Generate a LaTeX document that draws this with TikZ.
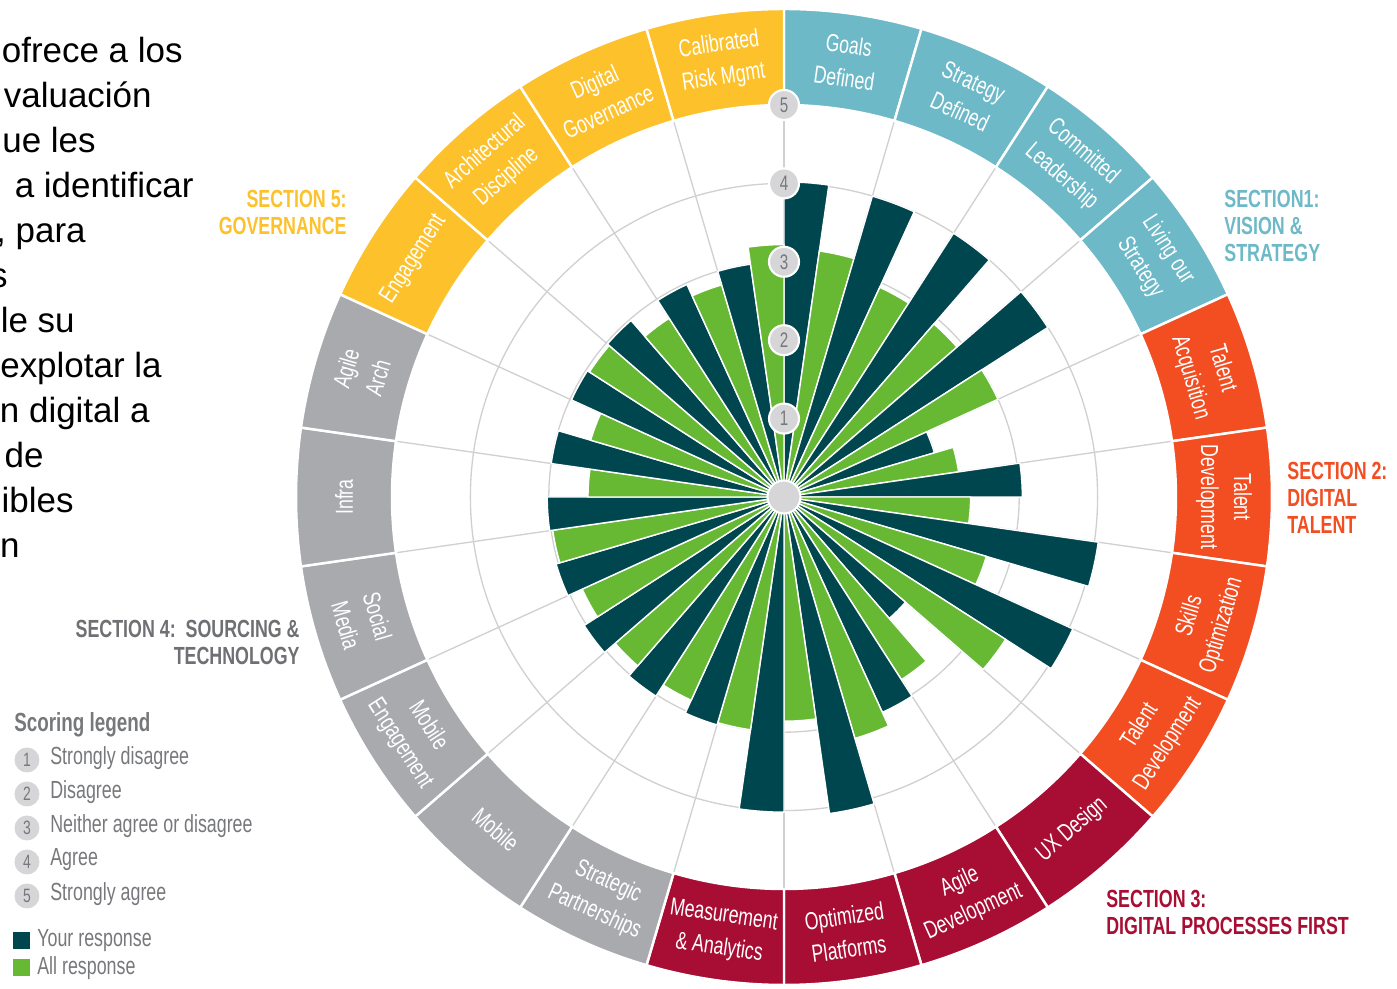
\documentclass[tikz,border=0pt]{standalone}
\usepackage{fontspec}
\setmainfont{Liberation Sans}
\newfontfamily\condfont[FakeStretch=0.72]{Liberation Sans}

\definecolor{yourbar}{HTML}{00464F}
\definecolor{allbar}{HTML}{67B934}
\definecolor{secone}{HTML}{6DB9C8}
\definecolor{sectwo}{HTML}{F24E22}
\definecolor{secthree}{HTML}{A80D33}
\definecolor{secfour}{HTML}{A9AAAD}
\definecolor{secfive}{HTML}{FDC22B}
\definecolor{secfourtext}{HTML}{6F7073}
\definecolor{gridgray}{HTML}{D0D0D0}
\definecolor{hubgray}{HTML}{D6D6D9}
\definecolor{legendgray}{HTML}{77787B}

\begin{document}
\begin{tikzpicture}[x=0.02cm, y=0.02cm,
    gridline/.style={gridgray, line width=0.75pt},
    barpiece/.style={draw=white, line width=0.8pt},
    bandpiece/.style={draw=white, line width=1.4pt},
    bandtext/.style={text=white, align=center, inner sep=0pt,
        font=\condfont\fontsize{14}{18.8}\selectfont},
    sectext/.style={align=left, inner sep=0pt,
        font=\condfont\bfseries\fontsize{14.1}{15.4}\selectfont},
    scoredot/.style={circle, fill=hubgray, draw=white, line width=1.2pt,
        minimum size=0.6cm, inner sep=0pt, text=legendgray,
        font=\condfont\fontsize{12}{12}\selectfont},
    legdot/.style={circle, fill=hubgray, minimum size=0.5cm, inner sep=0pt,
        text=legendgray, font=\condfont\fontsize{11}{11}\selectfont},
    legtext/.style={anchor=west, inner sep=0pt, text=legendgray,
        font=\condfont\fontsize{14.1}{14.1}\selectfont}]
    \path[use as bounding box] (-784,-492) rectangle (613,497);

    % cut-off text on the left
    \begin{scope}
        \clip (-784,-492) rectangle (613,497);
        \foreach \t/\xe/\yb [count=\i] in {ofrece a los/183/63, valuación/152/108,
            ue les/96/153, a identificar/194/198, {, para}/86/243, s/8/288,
            le su/75/333, explotar la/162/378, n digital a/150/423, de/44/468,
            ibles/74/513, n/20/558}
            \node[anchor=base east, inner sep=0pt, font=\fontsize{19.9}{24}\selectfont] (intro\i) at (\xe-784, 497-\yb) {\t};
    \end{scope}

    % grid
    \foreach \r in {1,...,4}
        \draw[gridline] (0,0) circle[radius=\r*78.4];
    \foreach \k in {0,...,21}
        \draw[gridline] (0,0) -- ({90-360/22*\k}:392);

    % bars, ring and labels
    \foreach \k/\vy/\va/\secol/\lab in {
        0/4.02/3.17/secone/{Goals\\Defined},
        1/4.0/2.94/secone/{Strategy\\Defined},
        2/4.0/2.92/secone/{Committed\\Leadership},
        3/4.0/3.0/secone/{Living our\\Strategy},
        4/2.0/2.25/sectwo/{Talent\\Acquisition},
        5/3.04/2.38/sectwo/{Talent\\Development},
        6/4.05/2.69/sectwo/{Skills\\Optimization},
        7/4.05/3.36/sectwo/{Talent\\Development},
        8/2.05/2.77/secthree/{UX Design},
        9/3.02/3.21/secthree/{Agile\\Development},
        10/4.08/2.86/secthree/{Optimized\\Platforms},
        11/4.02/3.0/secthree/{Measurement\\\& Analytics},
        12/3.03/2.85/secfour/{Strategic\\Partnerships},
        13/3.02/2.85/secfour/{Mobile},
        14/3.03/2.83/secfour/{Mobile\\Engagement},
        15/3.03/2.98/secfour/{Social\\Media},
        16/3.02/2.5/secfour/{Infra},
        17/3.0/2.57/secfour/{Agile\\Arch},
        18/2.98/2.95/secfive/{Engagement},
        19/2.98/2.71/secfive/{Architectural\\Discipline},
        20/2.98/2.82/secfive/{Digital\\Governance},
        21/3.0/3.22/secfive/{Calibrated\\Risk Mgmt}}{
        \pgfmathsetmacro\aa{90-360/22*\k}
        \pgfmathsetmacro\am{\aa-180/22}
        \pgfmathsetmacro\ab{\aa-360/22}
        \pgfmathsetmacro\ry{\vy*78.4}
        \pgfmathsetmacro\ra{\va*78.4}
        \pgfmathsetmacro\th{360/22*(\k+0.5)}
        \pgfmathsetmacro\rot{(\th>90.5 && \th<269.5) ? 180-\th : -\th}
        \filldraw[barpiece, fill=yourbar] (0,0) -- (\aa:\ry) arc[start angle=\aa, end angle=\am, radius=\ry] -- cycle;
        \filldraw[barpiece, fill=allbar] (0,0) -- (\am:\ra) arc[start angle=\am, end angle=\ab, radius=\ra] -- cycle;
        \filldraw[bandpiece, fill=\secol] (\aa:392) arc[start angle=\aa, end angle=\ab, radius=392]
            -- (\ab:488) arc[start angle=\ab, end angle=\aa, radius=488] -- cycle;
        \node[bandtext, rotate=\rot] (seg\k) at ({90-\th}:440) {\lab};
    }

    % hub and score marks
    \node[circle, fill=hubgray, draw=white, line width=1.2pt, minimum size=0.66cm] (hub) at (0,0) {};
    \foreach \s in {1,...,5}
        \node[scoredot] (score\s) at (0,{\s*78.4}) {\s};

    % section titles
    \node[sectext, text=secone, anchor=north west] (secA) at (440,307) {SECTION1:\\VISION \&\\STRATEGY};
    \node[sectext, text=sectwo, anchor=north west] (secB) at (503,35) {SECTION 2:\\DIGITAL\\TALENT};
    \node[sectext, text=secthree, anchor=north west] (secC) at (322,-393) {SECTION 3:\\DIGITAL PROCESSES FIRST};
    \node[sectext, text=secfourtext, anchor=north east, align=right] (secD) at (-484,-123) {SECTION 4:\ \ SOURCING \&\\TECHNOLOGY};
    \node[sectext, text=secfive, anchor=north east, align=right] (secE) at (-437,307) {SECTION 5:\\GOVERNANCE};

    % legend
    \node[legtext, font=\condfont\bfseries\fontsize{14.9}{14.9}\selectfont] (legtitle) at (-770,-228) {Scoring legend};
    \foreach \s/\txt in {1/Strongly disagree, 2/Disagree, 3/Neither agree or disagree, 4/Agree, 5/Strongly agree}{
        \node[legdot] (leg\s) at (-757,{-263-34*(\s-1)}) {\s};
        \node[legtext] (legtxt\s) at (-734,{-261-34*(\s-1)}) {\txt};
    }
    \node[fill=yourbar, minimum size=0.34cm, inner sep=0pt] (keyyour) at (-762,-444) {};
    \node[legtext] (keyyourtxt) at (-747,-444) {Your response};
    \node[fill=allbar, minimum size=0.34cm, inner sep=0pt] (keyall) at (-762,-471) {};
    \node[legtext] (keyalltxt) at (-747,-471) {All response};
\end{tikzpicture}
\end{document}
